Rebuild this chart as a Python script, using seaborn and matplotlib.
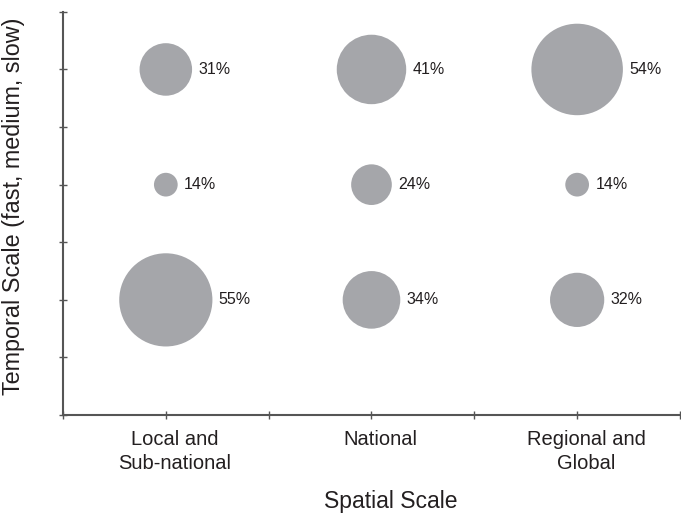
import matplotlib
matplotlib.use("Agg")
import matplotlib.pyplot as plt
import matplotlib.transforms as mtransforms
import pandas as pd
import seaborn as sns

# spatial scale categories (x) and temporal scale rows (y)
spatial = ["Local and\nSub-national", "National", "Regional and\nGlobal"]
temporal = ["slow", "medium", "fast"]

# share of items per cell, in percent
fast_pct = [31, 41, 54]
medium_pct = [14, 24, 14]
slow_pct = [55, 34, 32]

x_pos = [1, 3, 5]
y_pos = {"slow": 2, "medium": 4, "fast": 6}

rows = []
for t, vals in zip(["fast", "medium", "slow"], [fast_pct, medium_pct, slow_pct]):
    for xp, v in zip(x_pos, vals):
        rows.append({"x": xp, "y": y_pos[t], "pct": v, "area": v ** 2})
df = pd.DataFrame(rows)

sns.set_style("white")
plt.rcParams["font.family"] = ["Liberation Sans", "DejaVu Sans"]

fig = plt.figure(figsize=(6.81, 5.15), dpi=100)
ax = fig.add_axes([0.0925, 0.194, 0.906, 0.783])

k = 1.22  # marker diameter in points per percent
sns.scatterplot(
    data=df, x="x", y="y", size="area",
    sizes=(0, (k * 55) ** 2), size_norm=(0, 55 ** 2),
    color="#a5a6aa", edgecolor="none", linewidth=0,
    legend=False, ax=ax, clip_on=False,
)

for _, r in df.iterrows():
    ax.annotate(f"{int(r.pct)}%", (r.x, r.y),
                xytext=(k * r.pct / 2 + 4.5, 0), textcoords="offset points",
                ha="left", va="center", fontsize=11.5, color="#231f20")

ax.set_xlim(0, 6)
ax.set_ylim(0, 7)
ax.set_xticks(range(0, 7))
ax.set_xticklabels(["", spatial[0], "", spatial[1], "", spatial[2], ""],
                   linespacing=1.3)
ax.set_yticks(range(0, 8))
ax.set_yticklabels([])
ax.tick_params(axis="both", direction="inout", length=6, width=1,
               color="#555555", labelsize=14.5, labelcolor="#231f20", pad=8,
               bottom=True, left=True)

# labels in the original sit a little right of their ticks
shift = mtransforms.ScaledTranslation(9 / 100, 0, fig.dpi_scale_trans)
for lab in ax.get_xticklabels():
    lab.set_transform(lab.get_transform() + shift)

for side in ["top", "right"]:
    ax.spines[side].set_visible(False)
for side in ["left", "bottom"]:
    ax.spines[side].set_color("#555555")
    ax.spines[side].set_linewidth(1.5)

ax.set_xlabel("Spatial Scale", fontsize=16.5, color="#231f20")
ax.xaxis.set_label_coords(0.532, -0.186)
ax.set_ylabel("Temporal Scale (fast, medium, slow)", fontsize=16.8,
              color="#231f20")
ax.yaxis.set_label_coords(-0.062, 0.518)

fig.savefig("out.png", dpi=100)
